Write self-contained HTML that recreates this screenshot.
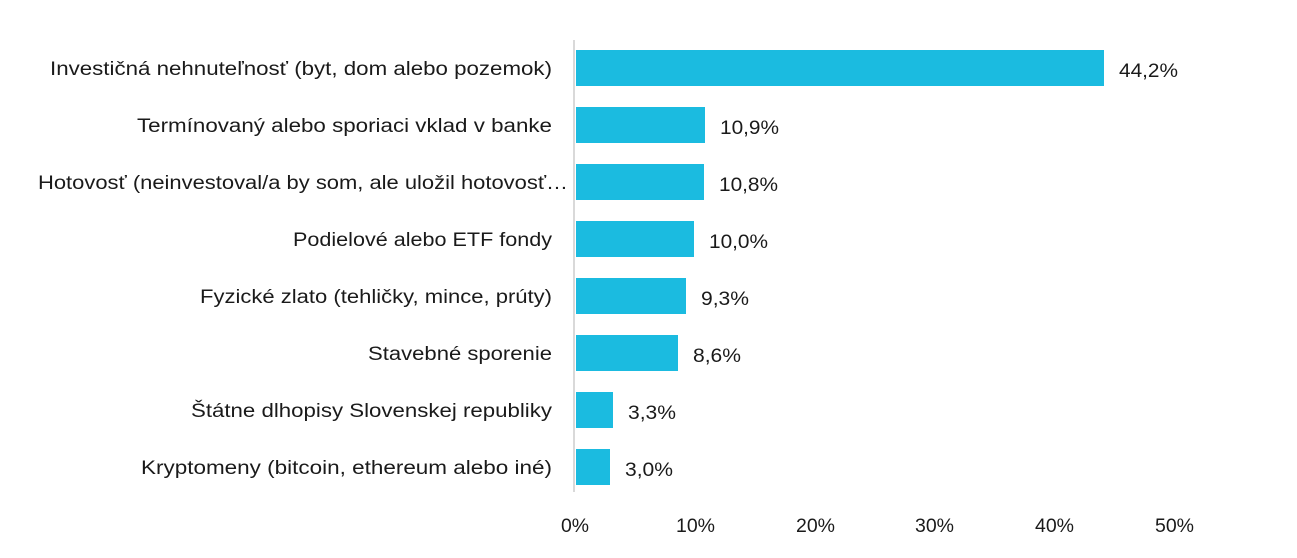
<!DOCTYPE html>
<html><head><meta charset="utf-8"><style>
body{margin:0;background:#fff;}
svg text{font-family:"Liberation Sans",sans-serif;font-size:19px;fill:#1a1a1a;}
</style></head><body>
<svg width="1297" height="553" xmlns="http://www.w3.org/2000/svg">
<rect x="573" y="40" width="2" height="452" fill="#d9d9d9"/>
<g fill="#1bbbe0">
<rect x="576" y="50" width="528" height="36"/>
<rect x="576" y="107" width="129" height="36"/>
<rect x="576" y="164" width="128" height="36"/>
<rect x="576" y="221" width="118" height="36"/>
<rect x="576" y="278" width="110" height="36"/>
<rect x="576" y="335" width="102" height="36"/>
<rect x="576" y="392" width="37" height="36"/>
<rect x="576" y="449" width="34" height="36"/>
</g>
<g lengthAdjust="spacingAndGlyphs">
<text x="50" y="75" textLength="502" lengthAdjust="spacingAndGlyphs">Investičná nehnuteľnosť (byt, dom alebo pozemok)</text>
<text x="137" y="132" textLength="415" lengthAdjust="spacingAndGlyphs">Termínovaný alebo sporiaci vklad v banke</text>
<text x="38" y="189" textLength="530" lengthAdjust="spacingAndGlyphs">Hotovosť (neinvestoval/a by som, ale uložil hotovosť…</text>
<text x="293" y="246" textLength="259" lengthAdjust="spacingAndGlyphs">Podielové alebo ETF fondy</text>
<text x="200" y="303" textLength="352" lengthAdjust="spacingAndGlyphs">Fyzické zlato (tehličky, mince, prúty)</text>
<text x="368" y="360" textLength="184" lengthAdjust="spacingAndGlyphs">Stavebné sporenie</text>
<text x="191" y="417" textLength="361" lengthAdjust="spacingAndGlyphs">Štátne dlhopisy Slovenskej republiky</text>
<text x="141" y="474" textLength="411" lengthAdjust="spacingAndGlyphs">Kryptomeny (bitcoin, ethereum alebo iné)</text>
</g>
<g>
<text x="1119" y="77" textLength="59" lengthAdjust="spacingAndGlyphs">44,2%</text>
<text x="720" y="134" textLength="59" lengthAdjust="spacingAndGlyphs">10,9%</text>
<text x="719" y="191" textLength="59" lengthAdjust="spacingAndGlyphs">10,8%</text>
<text x="709" y="248" textLength="59" lengthAdjust="spacingAndGlyphs">10,0%</text>
<text x="701" y="305" textLength="48" lengthAdjust="spacingAndGlyphs">9,3%</text>
<text x="693" y="362" textLength="48" lengthAdjust="spacingAndGlyphs">8,6%</text>
<text x="628" y="419" textLength="48" lengthAdjust="spacingAndGlyphs">3,3%</text>
<text x="625" y="476" textLength="48" lengthAdjust="spacingAndGlyphs">3,0%</text>
</g>
<g>
<text x="561" y="532" textLength="28" lengthAdjust="spacingAndGlyphs">0%</text>
<text x="676" y="532" textLength="39" lengthAdjust="spacingAndGlyphs">10%</text>
<text x="796" y="532" textLength="39" lengthAdjust="spacingAndGlyphs">20%</text>
<text x="915" y="532" textLength="39" lengthAdjust="spacingAndGlyphs">30%</text>
<text x="1035" y="532" textLength="39" lengthAdjust="spacingAndGlyphs">40%</text>
<text x="1155" y="532" textLength="39" lengthAdjust="spacingAndGlyphs">50%</text>
</g>
</svg>
</body></html>
